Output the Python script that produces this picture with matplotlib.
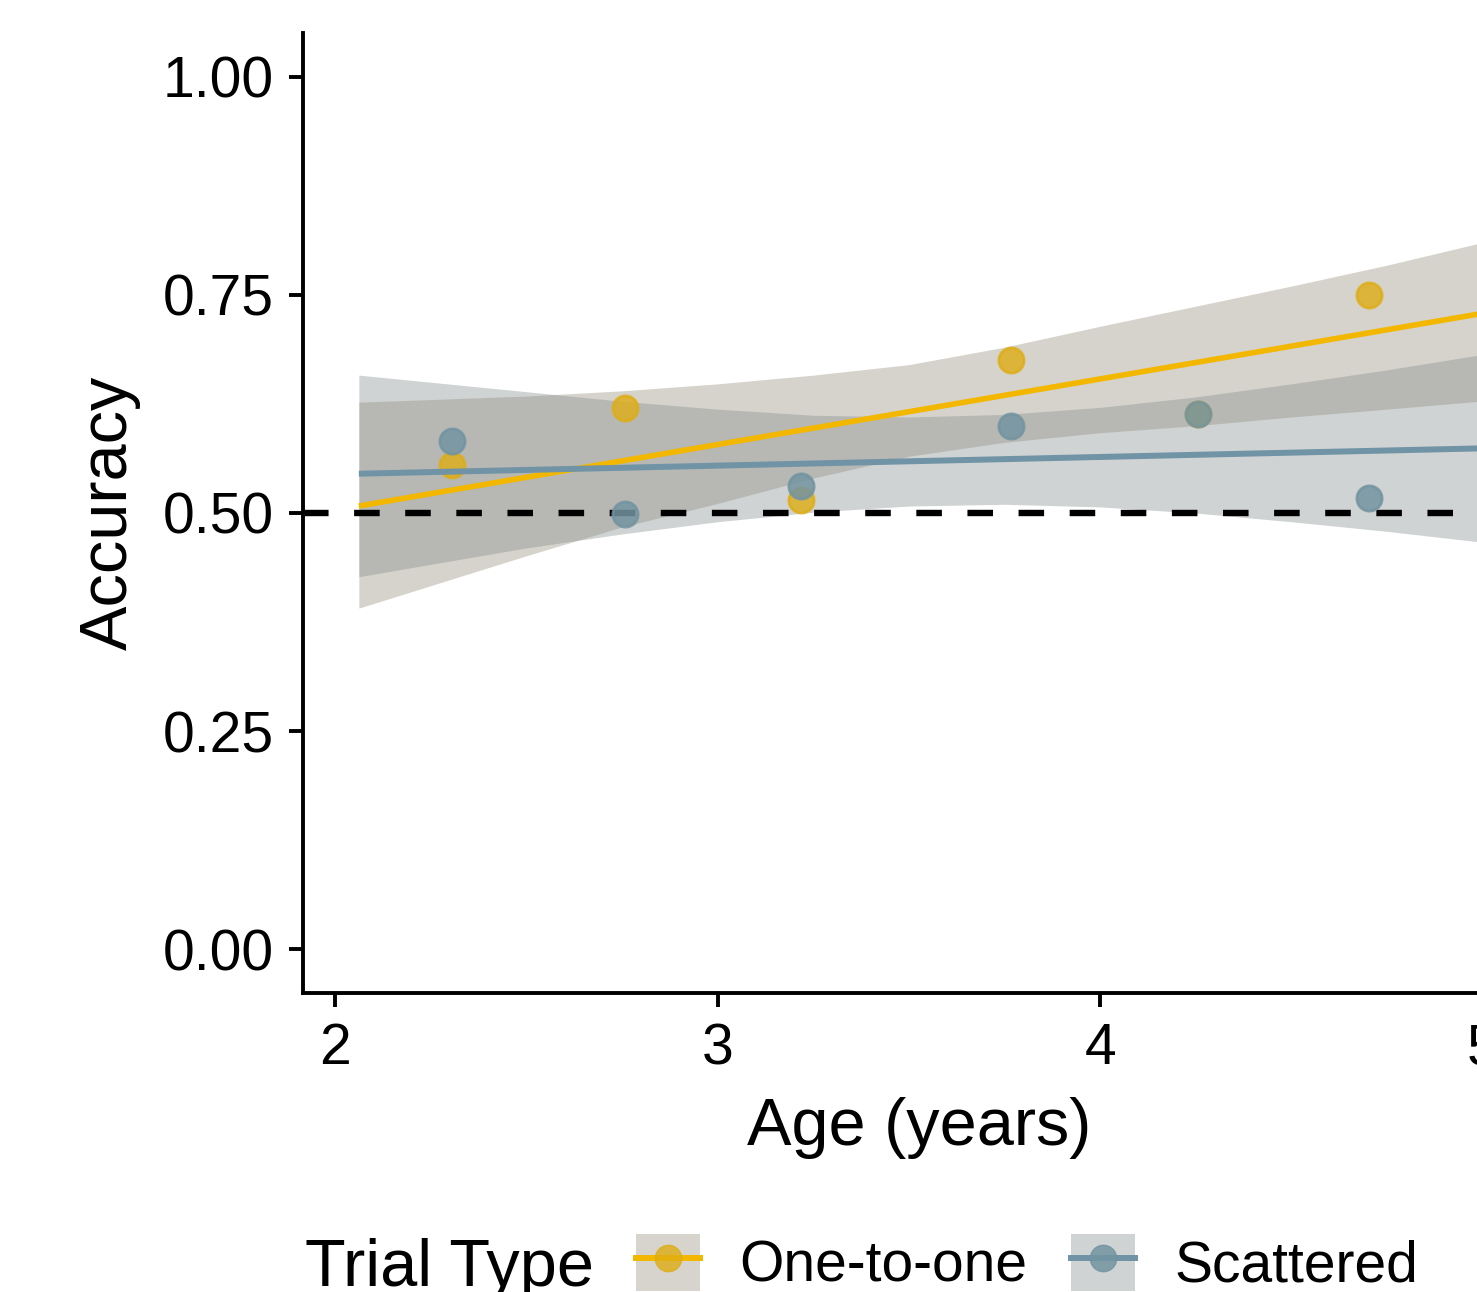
import matplotlib
matplotlib.use("Agg")
import matplotlib.pyplot as plt
from matplotlib.patches import Patch
from matplotlib.lines import Line2D

plt.rcParams['font.family'] = ['Liberation Sans', 'DejaVu Sans']

# binned mean accuracy per age group
age_bins = [2.306, 2.758, 3.218, 3.767, 4.256, 4.702]
one_to_one_acc = [0.555, 0.620, 0.515, 0.675, 0.613, 0.750]
scattered_acc = [0.583, 0.499, 0.531, 0.600, 0.613, 0.517]

# linear fits (ends of the fitted lines)
fit_x = [2.062, 4.99]
one_to_one_fit = [0.508, 0.728]
scattered_fit = [0.545, 0.574]

# confidence bands read at a few ages
band_x = [2.062, 2.5, 2.75, 3.0, 3.25, 3.5, 3.75, 4.0, 4.25, 4.5, 4.75, 4.99]
one_to_one_lo = [0.391, 0.451, 0.484, 0.511, 0.540, 0.565, 0.581, 0.592, 0.600, 0.610, 0.619, 0.628]
one_to_one_hi = [0.627, 0.634, 0.640, 0.648, 0.658, 0.670, 0.690, 0.714, 0.737, 0.760, 0.784, 0.809]
scattered_lo = [0.427, 0.460, 0.476, 0.490, 0.501, 0.508, 0.510, 0.507, 0.500, 0.490, 0.479, 0.467]
scattered_hi = [0.658, 0.639, 0.628, 0.619, 0.612, 0.610, 0.613, 0.621, 0.633, 0.648, 0.664, 0.681]

y_ticks = [0.0, 0.25, 0.50, 0.75, 1.00]
x_ticks = [2, 3, 4, 5]

yellow = '#F3B700'
yellow_pt = (0.87, 0.68, 0.08, 0.8)
blue = '#7093A5'
blue_pt = (0.45, 0.58, 0.63, 0.85)
beige_fill = '#98937F'
gray_fill = '#8A9191'
beige_key = '#D6D4CD'
gray_key = '#D0D3D3'

W, H = 1477, 1292
fig = plt.figure(figsize=(W / 100, H / 100), dpi=100)
ax = fig.add_axes([303 / W, 299 / H, (1535 - 303) / W, (993 - 33) / H])

ax.fill_between(band_x, one_to_one_lo, one_to_one_hi, color=beige_fill, alpha=0.4, lw=0, zorder=1)
ax.fill_between(band_x, scattered_lo, scattered_hi, color=gray_fill, alpha=0.4, lw=0, zorder=1)

ax.axhline(0.5, color='black', lw=4.6, ls=(0, (4, 4)), zorder=2)

ax.scatter(age_bins, one_to_one_acc, s=330, color=yellow_pt, edgecolors=yellow_pt, linewidths=2, zorder=3)
ax.scatter(age_bins, scattered_acc, s=330, color=blue_pt, edgecolors=blue_pt, linewidths=2, zorder=3)

ax.plot(fit_x, one_to_one_fit, color=yellow, lw=4.0, zorder=4, solid_capstyle='butt')
ax.plot(fit_x, scattered_fit, color=blue, lw=4.3, zorder=4, solid_capstyle='butt')

ax.set_xlim(1.916, 5.137)
ax.set_ylim(-0.05, 1.05)
ax.set_xticks(x_ticks)
ax.set_xticklabels([str(t) for t in x_ticks])
ax.set_yticks(y_ticks)
ax.set_yticklabels([f"{t:.2f}" for t in y_ticks])

for side in ['top', 'right']:
    ax.spines[side].set_visible(False)
for side in ['left', 'bottom']:
    ax.spines[side].set_linewidth(2.8)
ax.tick_params(axis='both', length=10, width=2.8, labelsize=41, colors='black')
ax.tick_params(axis='x', pad=11)
ax.tick_params(axis='y', pad=11)

ax.set_xlabel('Age (years)', fontsize=48, labelpad=15)
ax.set_ylabel('Accuracy', fontsize=48, labelpad=16)

# legend along the bottom
fig.text(305 / W, 6 / H, 'Trial Type', fontsize=48, va='baseline', ha='left')
handles = [
    (Patch(facecolor=beige_key, edgecolor='none'),
     Line2D([], [], color=yellow, lw=4.3, marker='o', markersize=19,
            markerfacecolor=yellow_pt, markeredgecolor=yellow_pt)),
    (Patch(facecolor=gray_key, edgecolor='none'),
     Line2D([], [], color=blue, lw=4.3, marker='o', markersize=19,
            markerfacecolor=blue_pt, markeredgecolor=blue_pt)),
]
fig.legend(handles, ['One-to-one', 'Scattered'], loc='center left',
           bbox_to_anchor=(636 / W, 1 - 1264 / H), ncol=2, frameon=False,
           fontsize=41, borderpad=0, borderaxespad=0, handlelength=1.12,
           handleheight=1.15, handletextpad=0.7, columnspacing=0.76)

fig.savefig('out.png', dpi=100)
